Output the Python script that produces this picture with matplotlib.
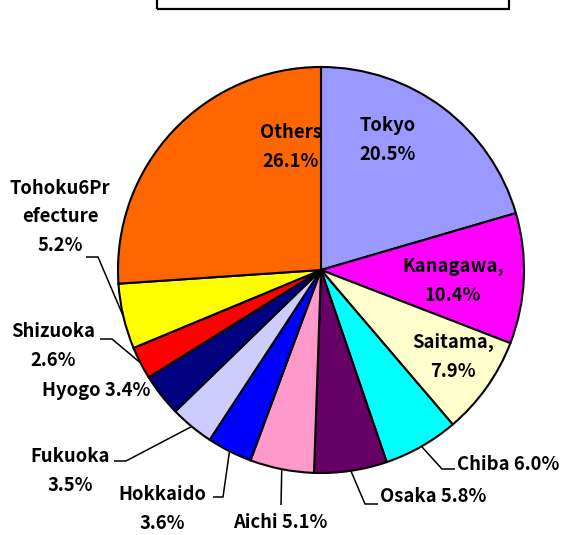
import numpy as np
import matplotlib.pyplot as plt
from matplotlib.patches import Rectangle

plt.rcParams['font.family'] = ['Noto Sans CJK JP', 'DejaVu Sans']

# slice data, clockwise from 12 o'clock
regions = ['Tokyo', 'Kanagawa', 'Saitama', 'Chiba', 'Osaka', 'Aichi',
           'Hokkaido', 'Fukuoka', 'Hyogo', 'Shizuoka', 'Tohoku6Prefecture', 'Others']
shares = [20.5, 10.4, 7.9, 6.0, 5.8, 5.1, 3.6, 3.5, 3.4, 2.6, 5.2, 26.1]
colors = ['#9999FF', '#FF00FF', '#FFFFCC', '#00FFFF', '#660066', '#FF99CC',
          '#0000FF', '#CCCCFF', '#000080', '#FF0000', '#FFFF00', '#FF6600']
label_texts = ['Tokyo\n20.5%', 'Kanagawa,\n10.4%', 'Saitama,\n7.9%', 'Chiba 6.0%',
               'Osaka 5.8%', 'Aichi 5.1%', 'Hokkaido\n3.6%', 'Fukuoka\n3.5%',
               'Hyogo 3.4%', 'Shizuoka\n2.6%', 'Tohoku6Pr\nefecture\n5.2%',
               'Others\n26.1%']

W, H = 563, 535
fig = plt.figure(figsize=(W / 100, H / 100), dpi=100)
ax = fig.add_axes([0, 0, 1, 1])


def py(y):
    # pixel row -> data y
    return H - y


cx, cy, R = 321, py(270), 203
wedges, _ = ax.pie(shares, colors=colors, startangle=90, counterclock=False,
                   center=(cx, cy), radius=R, frame=True,
                   wedgeprops=dict(edgecolor='black', linewidth=1.5))
ax.set_xlim(0, W)
ax.set_ylim(0, H)
ax.set_aspect('equal')
ax.axis('off')

# label positions (pixels): x, y, horizontal alignment, leader elbow or None
layout = {
    'Tokyo': (388, 140, 'center', None),
    'Kanagawa': (453, 281, 'center', None),
    'Saitama': (453, 357, 'center', None),
    'Chiba': (457, 464, 'left', [(442, 469), (455, 469)]),
    'Osaka': (380, 497, 'left', [(365, 504), (378, 504)]),
    'Aichi': (280, 522, 'center', [(281, 505)]),
    'Hokkaido': (162, 509, 'center', [(223, 497), (213, 497)]),
    'Fukuoka': (70, 471, 'center', [(126, 461), (114, 461)]),
    'Hyogo': (96, 390, 'center', None),
    'Shizuoka': (53, 346, 'center', [(112, 339), (100, 339)]),
    'Tohoku6Prefecture': (60, 217, 'center', [(98, 257), (86, 257)]),
    'Others': (291, 147, 'center', None),
}

for w, name, txt in zip(wedges, regions, label_texts):
    x, y, ha, elbow = layout[name]
    ax.text(x, py(y), txt, ha=ha, va='center', fontsize=13.3,
            fontweight='bold', linespacing=1.62, color='black')
    if elbow:
        mid = np.deg2rad((w.theta1 + w.theta2) / 2)
        xs = [cx + R * np.cos(mid)] + [p[0] for p in elbow]
        ys = [cy + R * np.sin(mid)] + [py(p[1]) for p in elbow]
        ax.plot(xs, ys, color='black', lw=1.1, solid_capstyle='butt')

# title box, cut off at the top edge
ax.add_patch(Rectangle((157, py(9)), 352, 30, fill=False,
                       edgecolor='black', linewidth=1.6, clip_on=True))

fig.savefig('out.png', dpi=100)
